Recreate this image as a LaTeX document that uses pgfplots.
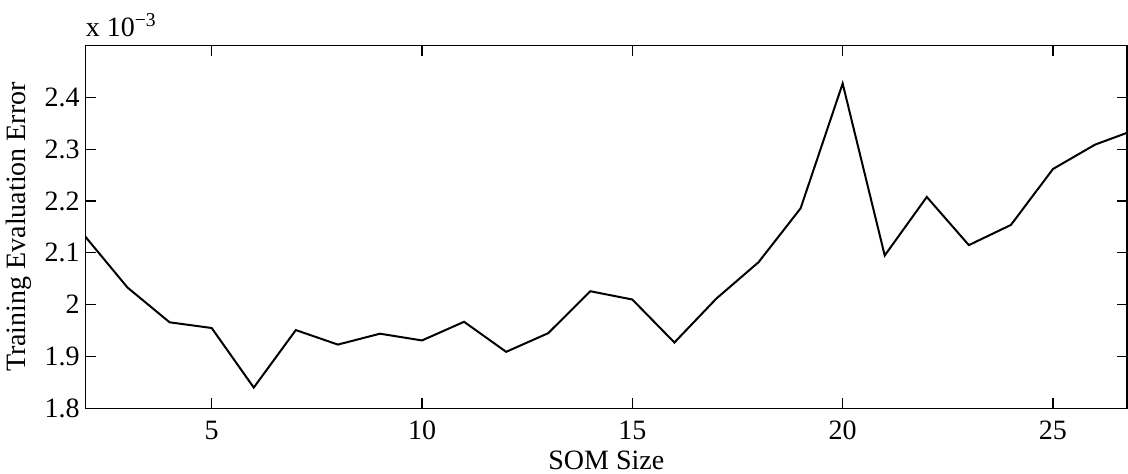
\documentclass[border=0pt]{standalone}
\usepackage{fontspec}
\setmainfont{Liberation Serif}
\usepackage{pgfplots}
\pgfplotsset{compat=1.18}

\begin{document}
\fontsize{14}{16.8}\selectfont
\begin{tikzpicture}
\begin{axis}[
    at={(0,0)}, anchor=south west,
    scale only axis,
    width=520.75pt, height=181.3pt,
    xmin=2, xmax=26.76,
    ymin=1.8, ymax=2.5,
    xtick={5,10,15,20,25},
    xticklabels={5,10,15,20,25},
    ytick={1.8,1.9,2.0,2.1,2.2,2.3,2.4},
    yticklabels={1.8,1.9,2,2.1,2.2,2.3,2.4},
    tick align=inside,
    major tick length=5pt,
    axis line style={line width=0.6pt},
    tick style={line width=0.6pt, black},
    xticklabel style={anchor=base, yshift=-15.85pt},
    yticklabel style={inner xsep=2.75pt},
]
\addplot[black, line width=1pt] table {
x y
2 2.131
3 2.033
4 1.966
5 1.955
6 1.840
7 1.951
8 1.923
9 1.944
10 1.931
11 1.967
12 1.909
13 1.945
14 2.026
15 2.010
16 1.927
17 2.012
18 2.082
19 2.186
20 2.427
21 2.095
22 2.208
23 2.115
24 2.154
25 2.262
26 2.309
27 2.339
};
\end{axis}
\node[anchor=base] at (260.4pt,-30.85pt) {SOM Size};
\node[rotate=90, anchor=base] at (-29.75pt,90.65pt) {Training Evaluation Error};
\node[anchor=base west, inner sep=0pt] at (0pt,185.8pt) {x 10\textsuperscript{−3}};
\pgfresetboundingbox
\useasboundingbox (-42.75pt,-32.85pt) rectangle (521.25pt,204.15pt);
\end{tikzpicture}
\end{document}
